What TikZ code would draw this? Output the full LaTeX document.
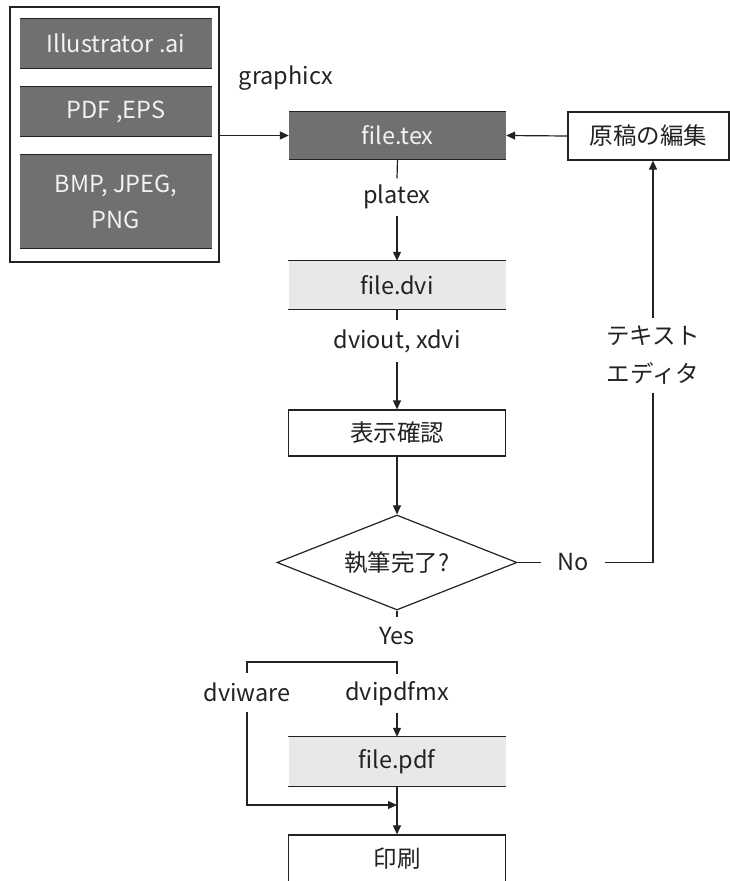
\documentclass[tikz,border=0pt]{standalone}
\usepackage{fontspec}
\setmainfont{Noto Sans CJK JP}
\usetikzlibrary{arrows.meta,shapes.geometric}
\definecolor{darkfill}{HTML}{707070}
\definecolor{lightfill}{HTML}{E8E8E8}
\definecolor{ink}{HTML}{222222}
\definecolor{paletext}{HTML}{F2F2F2}
\begin{document}
\begin{tikzpicture}[x=1pt,y=-1pt,
  font=\fontsize{23.5}{28}\selectfont,
  box/.style={minimum width=217pt, minimum height=47pt, inner sep=0pt, align=center},
  darkbox/.style={box, fill=darkfill, text=paletext},
  lightbox/.style={box, fill=lightfill, text=ink},
  whitebox/.style={box, draw=ink, line width=1.2pt, fill=white, text=ink},
  srcbox/.style={fill=darkfill, text=paletext, minimum width=192pt, inner sep=0pt, align=center},
  lbl/.style={text=ink, inner xsep=0pt, inner ysep=0pt, minimum height=38pt, align=center},
  ln/.style={line width=1.2pt, draw=ink},
  arr/.style={ln, -{Triangle[length=9pt,width=8pt]}}
]
\useasboundingbox (0,0) rectangle (730,881);
\clip (0,0) rectangle (730,881);

% source group
\node[draw=ink, line width=1.2pt, minimum width=209pt, minimum height=255pt, inner sep=0pt] (src) at (114.5,134.5) {};
\node[srcbox, minimum height=49pt] (ai) at (116,43.5) {Illustrator .ai};
\node[srcbox, minimum height=49pt] (pdf) at (116,111.5) {PDF ,EPS};
\node[srcbox, minimum height=93pt, font=\fontsize{23.5}{36}\selectfont] (bmp) at (116,201.5) {BMP, JPEG,\\PNG};

% main column
\node[darkbox] (ftex) at (397.5,135.5) {file.tex};
\node[lightbox, minimum height=48pt] (fdvi) at (397,285) {file.dvi};
\node[whitebox, minimum height=46pt] (hyoji) at (397,433) {表示確認};
\node[draw=ink, line width=1.2pt, shape=diamond, aspect=2.5, minimum width=240pt, minimum height=95pt, inner sep=0pt, text=ink] (diam) at (397,562.5) {執筆完了?};
\node[lightbox, minimum height=49pt] (fpdf) at (397,761.5) {file.pdf};
\node[whitebox, minimum height=47pt] (insatsu) at (397,858.5) {印刷};

% right
\node[draw=ink, line width=1.2pt, fill=white, text=ink, minimum width=161pt, minimum height=48pt, inner sep=0pt] (genko) at (648.5,136) {原稿の編集};

% labels
\node[lbl] (graphicx) at (286,78) {graphicx};
\node[lbl, minimum height=37pt] (platex) at (397,197) {platex};
\node[lbl, minimum height=42pt] (dviout) at (397,341) {dviout, xdvi};
\node[lbl, inner xsep=16pt] (no) at (573,562.5) {No};
\node[lbl] (yes) at (397,636) {Yes};
\node[lbl, minimum height=39pt] (dviware) at (247,692.5) {dviware};
\node[lbl, minimum height=39pt] (dvipdfmx) at (397,693.5) {dvipdfmx};
\node[lbl, minimum height=75pt, font=\fontsize{23.5}{38}\selectfont] (editor) at (653,355.5) {テキスト\\エディタ};

% top and bottom borders of the band boxes
\foreach \n in {ai,pdf,bmp,ftex,fdvi,fpdf}{
  \draw[ln] (\n.north west) -- (\n.north east) (\n.south west) -- (\n.south east);
}

\coordinate (branch) at (397,662);
\coordinate (join) at (397,805);

% connectors
\draw[arr] (src.east |- ftex.west) -- (ftex.west);
\draw[arr] (genko.west) -- (ftex.east);
\draw[ln] (ftex.south) -- (platex.north);
\draw[arr] (platex.south) -- (fdvi.north);
\draw[ln] (fdvi.south) -- (dviout.north);
\draw[arr] (dviout.south) -- (hyoji.north);
\draw[arr] (hyoji.south) -- (diam.north);
\draw[ln] (diam.east) -- (no.west);
\draw[ln] (no.east) -- (no.east -| editor.south) -- (editor.south);
\draw[arr] (editor.north) -- (editor.north |- genko.south);
\draw[ln] (diam.south) -- (yes.north);
\draw[ln] (dvipdfmx.north) -- (branch) -| (dviware.north);
\draw[arr] (dvipdfmx.south) -- (fpdf.north);
\draw[arr] (dviware.south) |- (join);
\draw[arr] (fpdf.south) -- (insatsu.north);
\end{tikzpicture}
\end{document}
